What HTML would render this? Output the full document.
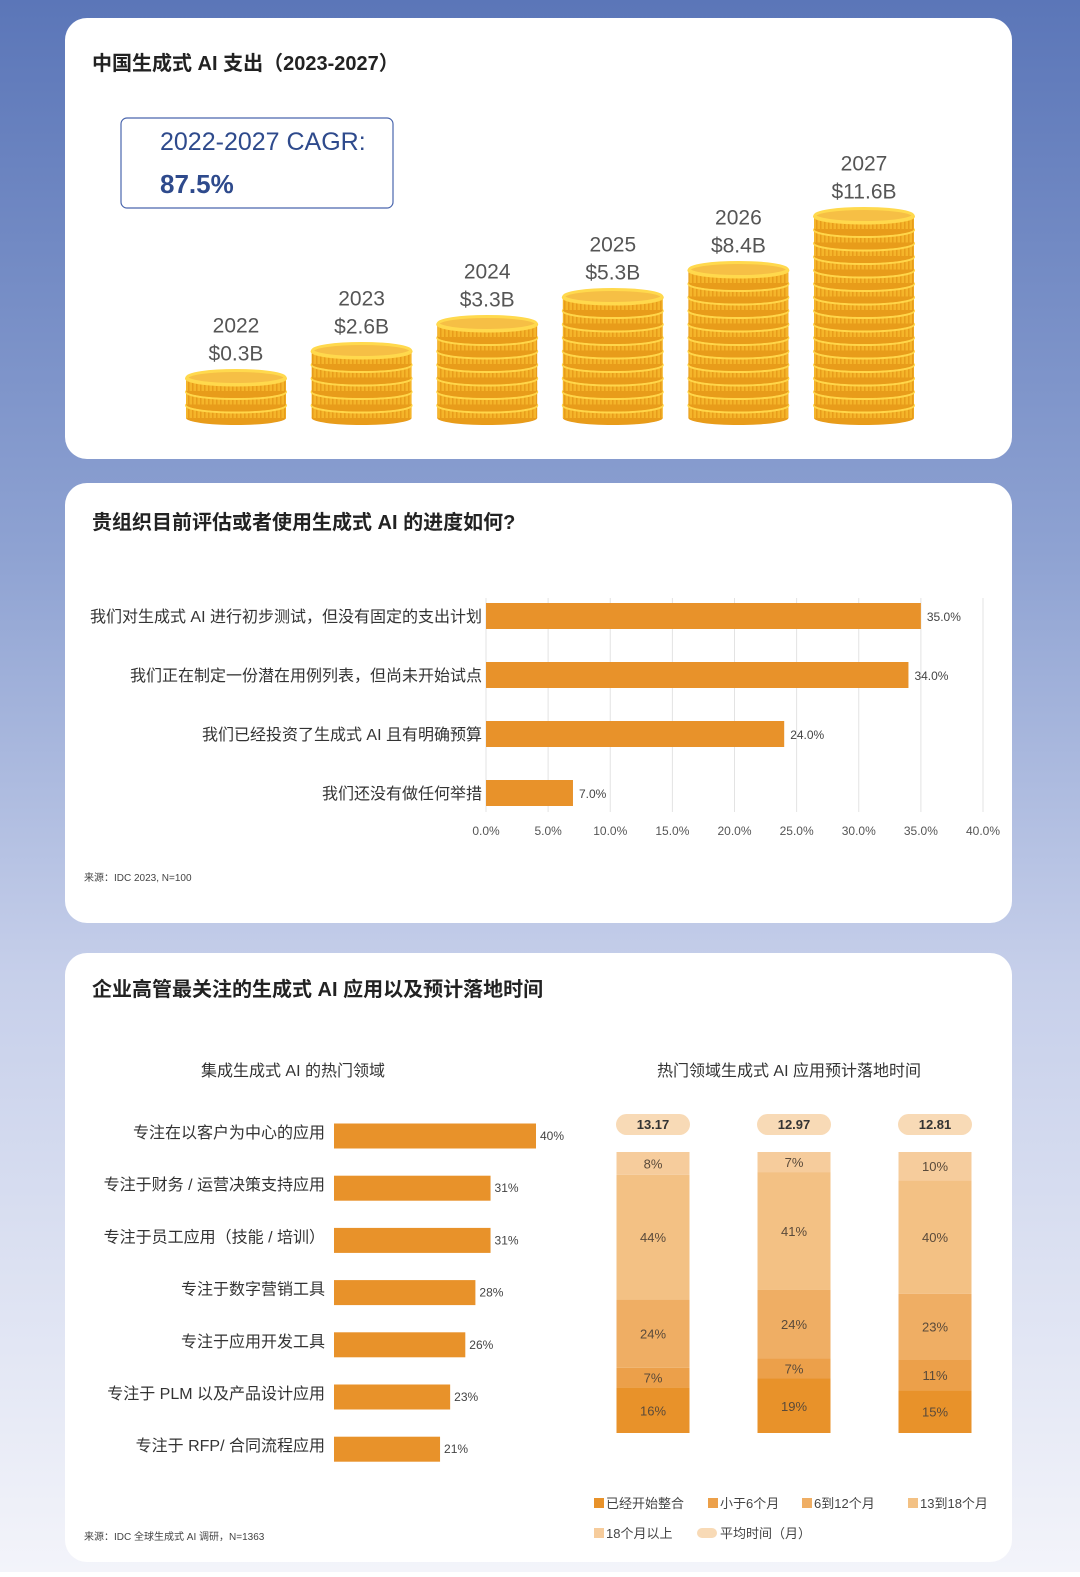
<!DOCTYPE html>
<html><head><meta charset="utf-8">
<style>
html,body{margin:0;padding:0;}
body{width:1080px;height:1572px;overflow:hidden;font-family:"Liberation Sans","Noto Sans CJK SC",sans-serif;}
svg text{font-family:"Liberation Sans","Noto Sans CJK SC",sans-serif;}
</style></head>
<body>
<svg id="page" width="1080" height="1572" viewBox="0 0 1080 1572" xmlns="http://www.w3.org/2000/svg">
<defs>
<linearGradient id="bg" x1="0" y1="0" x2="0" y2="1">
<stop offset="0" stop-color="#5b76b8"/><stop offset="0.35" stop-color="#8ea2d2"/><stop offset="0.62" stop-color="#c6cfea"/><stop offset="1" stop-color="#f3f4fa"/>
</linearGradient>
<pattern id="stripes" width="4" height="10" patternUnits="userSpaceOnUse">
<rect width="4" height="10" fill="#f5b52a"/><rect width="1.5" height="10" fill="#e89c1a"/>
</pattern>
</defs>
<rect width="1080" height="1572" fill="url(#bg)"/>
<rect x="65" y="18" width="947" height="441" rx="22" fill="#fff"/>
<rect x="65" y="483" width="947" height="440" rx="22" fill="#fff"/>
<rect x="65" y="953" width="947" height="609" rx="22" fill="#fff"/>

<text x="92" y="70" font-size="20" font-weight="bold" fill="#222">中国生成式 AI 支出（2023-2027）</text>
<rect x="121" y="118" width="272" height="90" rx="6" fill="#fff" stroke="#4a66ad" stroke-width="1.2"/>
<text x="160" y="150" font-size="25" fill="#2e4a8c">2022-2027 CAGR:</text>
<text x="160" y="193" font-size="26" font-weight="bold" fill="#2e4a8c">87.5%</text>
<g id="coins"></g>

<text x="92" y="529" font-size="20" font-weight="bold" fill="#222">贵组织目前评估或者使用生成式 AI 的进度如何?</text>
<g id="bars1"></g>
<text x="84" y="881" font-size="10" fill="#444">来源：IDC 2023, N=100</text>

<text x="92" y="996" font-size="20" font-weight="bold" fill="#222">企业高管最关注的生成式 AI 应用以及预计落地时间</text>
<text x="293" y="1076" font-size="16" text-anchor="middle" fill="#333">集成生成式 AI 的热门领域</text>
<text x="789" y="1076" font-size="16" text-anchor="middle" fill="#333">热门领域生成式 AI 应用预计落地时间</text>
<g id="bars2"></g>
<g id="stacks"></g>
<g id="legend"></g>
<text x="84" y="1540" font-size="10" fill="#444">来源：IDC 全球生成式 AI 调研，N=1363</text>
</svg>
<script>
const NS='http://www.w3.org/2000/svg';
const years=['2022','2023','2024','2025','2026','2027'];
const spendLabels=['$0.3B','$2.6B','$3.3B','$5.3B','$8.4B','$11.6B'];
const coinCounts=[3,5,7,9,11,15];

const q1Cats=['我们对生成式 AI 进行初步测试，但没有固定的支出计划','我们正在制定一份潜在用例列表，但尚未开始试点','我们已经投资了生成式 AI 且有明确预算','我们还没有做任何举措'];
const q1Vals=[35,34,24,7];
const q1Ticks=['0.0%','5.0%','10.0%','15.0%','20.0%','25.0%','30.0%','35.0%','40.0%'];

const q2Cats=['专注在以客户为中心的应用','专注于财务 / 运营决策支持应用','专注于员工应用（技能 / 培训）','专注于数字营销工具','专注于应用开发工具','专注于 PLM 以及产品设计应用','专注于 RFP/ 合同流程应用'];
const q2Vals=[40,31,31,28,26,23,21];

const avgTimes=['13.17','12.97','12.81'];
const segIntegrated=[16,19,15];
const segUnder6=[7,7,11];
const seg6to12=[24,24,23];
const seg13to18=[44,41,40];
const segOver18=[8,7,10];
const segNames=['已经开始整合','小于6个月','6到12个月','13到18个月','18个月以上'];
const segColors=['#e8922a','#eca04a','#efae64','#f3c184','#f6cc9c'];

function mk(tag,attrs,parent,text){const e=document.createElementNS(NS,tag);for(const k in attrs)e.setAttribute(k,attrs[k]);if(text!==undefined)e.textContent=text;parent.appendChild(e);return e;}

// coins
const cg=document.getElementById('coins');
const coinX=i=>236+i*125.6, coinBase=425, coinH=13.5, rx=50, ry=7;
years.forEach((y,i)=>{
  const cx=coinX(i);
  const g=mk('g',{},cg);
  
  
  const n=coinCounts[i];
  for(let k=0;k<n;k++){
    const b=coinBase-k*coinH;
    mk('ellipse',{cx:cx,cy:b-ry,rx:rx,ry:ry,fill:'#e89c1a'},g);
    mk('rect',{x:cx-rx,y:b-coinH-ry+1,width:rx*2,height:coinH-1,fill:'url(#stripes)'},g);
    mk('ellipse',{cx:cx,cy:b-coinH-ry+1,rx:rx,ry:ry,fill:'none',stroke:'#ffd64a','stroke-width':2},g);
  }
  const top=coinBase-n*coinH-ry;
  mk('ellipse',{cx:cx,cy:top,rx:rx-1,ry:ry,fill:'#f6bf45',stroke:'#ffd94d','stroke-width':3},g);
  const t1=mk('text',{x:cx,y:top-45,'font-size':21,'text-anchor':'middle',fill:'#555'},cg,y);
  
  
  const t2=mk('text',{x:cx,y:top-17,'font-size':21,'text-anchor':'middle',fill:'#555'},cg,spendLabels[i]);
  
  
});

// chart 1
const b1=document.getElementById('bars1');
const x1=v=>486+v*(497/40);
const y1=i=>616+i*59;
q1Ticks.forEach((t,i)=>{
  const v=i*5;
  const l=mk('line',{x1:x1(v),x2:x1(v),y1:598,y2:812,stroke:'#e3e3e3','stroke-width':1},b1);
  
  
  const tx=mk('text',{x:x1(v),y:835,'font-size':12,'text-anchor':'middle',fill:'#555'},b1,t);
  
  
});
q1Cats.forEach((c,i)=>{
  const r=mk('rect',{x:x1(0),y:y1(i)-13,width:x1(q1Vals[i])-x1(0),height:26,fill:'#e8922a'},b1);
  
  
  const l=mk('text',{x:482,y:y1(i)+6,'font-size':16,'text-anchor':'end',fill:'#333'},b1,c);
  
  
  const v=mk('text',{x:x1(q1Vals[i])+6,y:y1(i)+5,'font-size':12,fill:'#444'},b1,q1Vals[i].toFixed(1)+'%');
  
  
});

// chart 2
const b2=document.getElementById('bars2');
const x2=v=>334+v*(202/40);
const y2=i=>1136+i*52.2;
q2Cats.forEach((c,i)=>{
  const r=mk('rect',{x:x2(0),y:y2(i)-12.5,width:x2(q2Vals[i])-x2(0),height:25,fill:'#e8922a'},b2);
  
  
  const l=mk('text',{x:325,y:y2(i)+2,'font-size':16,'text-anchor':'end',fill:'#333'},b2,c);
  
  
  const v=mk('text',{x:x2(q2Vals[i])+4,y:y2(i)+4,'font-size':12,fill:'#444'},b2,q2Vals[i]+'%');
  
  
});

// stacks
const sg=document.getElementById('stacks');
const segs=[segIntegrated,segUnder6,seg6to12,seg13to18,segOver18];
const colX=i=>653+i*141, colW=73, sTop=1152, sBot=1433;
avgTimes.forEach((a,i)=>{
  const cx=colX(i);
  const p=mk('rect',{x:cx-37,y:1114,width:74,height:21,rx:10.5,fill:'#f8dab6'},sg);
  
  
  const pt=mk('text',{x:cx,y:1129,'font-size':13,'font-weight':'bold','text-anchor':'middle',fill:'#333'},sg,a);
  
  
  let total=0; segs.forEach(s=>total+=s[i]);
  const sc=(sBot-sTop)/total;
  let y=sBot;
  segs.forEach((s,k)=>{
    const h=s[i]*sc;
    const r=mk('rect',{x:cx-colW/2,y:y-h,width:colW,height:h,fill:segColors[k]},sg);
    
    
    const t=mk('text',{x:cx,y:y-h/2+5,'font-size':13,'text-anchor':'middle',fill:'#5a4a3a'},sg,s[i]+'%');
    
    
    y-=h;
  });
});

// legend
const lg=document.getElementById('legend');
const legPos=[[594,1503],[708,1503],[802,1503],[908,1503],[594,1533]];
segNames.forEach((n,k)=>{
  const [lx,ly]=legPos[k];
  const r=mk('rect',{x:lx,y:ly-5,width:10,height:10,fill:segColors[k]},lg);
  
  
  const t=mk('text',{x:lx+12,y:ly+5,'font-size':13,fill:'#444'},lg,n);
  
  
});
const lp=mk('rect',{x:697,y:1528,width:20,height:10,rx:5,fill:'#f8dab6'},lg);


const lt=mk('text',{x:720,y:1538,'font-size':13,fill:'#444'},lg,'平均时间（月）');


</script>
</body></html>
